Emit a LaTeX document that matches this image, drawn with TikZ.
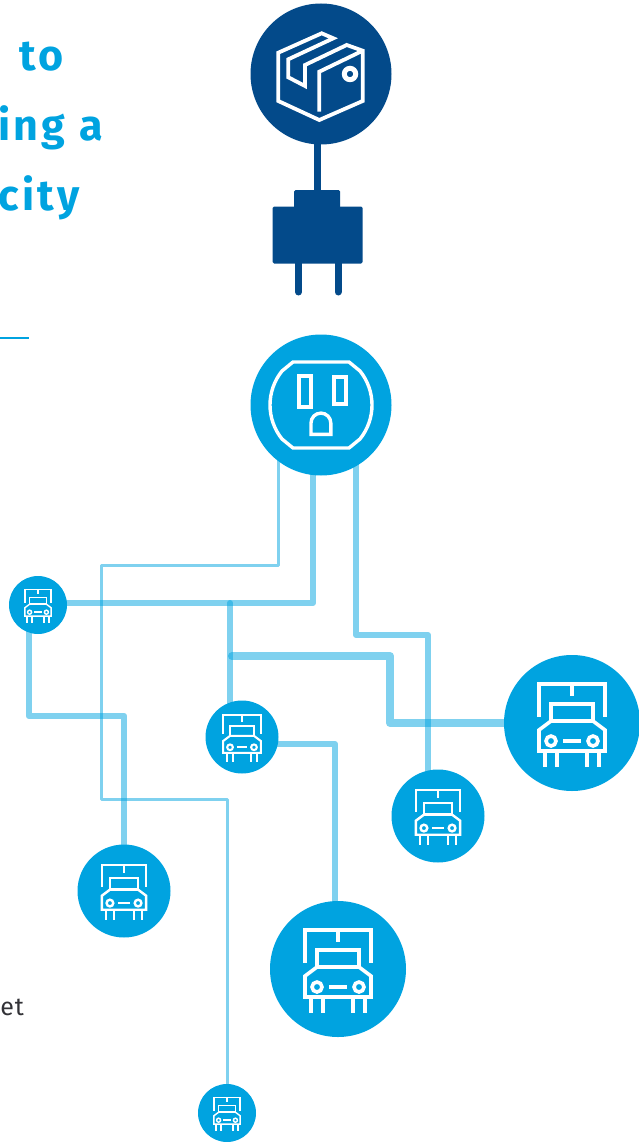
\documentclass[tikz,border=0pt]{standalone}
\usepackage{fontspec}
\setmainfont{Fira Sans}
\usepackage{tikz}
\usetikzlibrary{positioning, calc, backgrounds}
\usepackage{xcolor}
\definecolor{parcelblue}{RGB}{3, 74, 138}
\definecolor{chargeblue}{RGB}{0, 163, 224}
\definecolor{noteblack}{RGB}{50, 50, 55}
\tikzset{
  hub/.style={circle, fill=#1, inner sep=0pt, outer sep=0pt},
  headline/.style={anchor=base east, inner sep=0pt, text=chargeblue,
    font=\fontsize{43}{43}\selectfont\addfontfeature{LetterSpace=8}\bfseries},
  wire/.style={draw=chargeblue, opacity=0.5, line join=round, line width=#1},
  prong/.style={draw=parcelblue, line width=7pt, line cap=round},
  plugpart/.style={fill=parcelblue, rounded corners=1.5pt, inner sep=0pt, outer sep=0pt},
  glyph/.style={draw=white, line join=miter},
}
% truck icon, drawn around a named hub
\newcommand{\truckicon}[2]{%
  \begin{scope}[shift={(#1.center)}, scale=#2, glyph, line width=#2*3.6pt]
    \draw (-33,-6) -- (-33,-39) -- (33,-39) -- (33,-6);
    \draw (0,-39) -- (0,-27);
    \draw (-21,-2) rectangle (21,-19);
    \draw (-33,7) -- (-21,-2) -- (21,-2) -- (33,7) -- (33,28) -- (-33,28) -- cycle;
    \draw (-21,18) circle (5);
    \draw (21,18) circle (5);
    \draw (-9,18) -- (9,18);
    \foreach \legx in {-27,-15,15,27}
      \draw (\legx,28) -- (\legx,44);
  \end{scope}}
\begin{document}
\begin{tikzpicture}[x=1pt, y=-1pt]
  \useasboundingbox (0,0) rectangle (639,1142);
  % clipped headline and note
  \node[headline] (lineA) at (64,71) {to};
  \node[headline] (lineB) at (103,141) {ing a};
  \node[headline] (lineC) at (80,210) {city};
  \draw[chargeblue, line width=2pt] (0,338) -- (29,338);
  \node[anchor=base east, inner sep=0pt, text=noteblack, font=\fontsize{25}{25}\selectfont\addfontfeature{LetterSpace=3}\mdseries] (noteEnd) at (24,1015) {et};
  % the parcel and its plug
  \node[hub=parcelblue, minimum size=141pt] (parcel) at (321,74) {};
  \node[plugpart, minimum width=46pt, minimum height=24pt] (plugTop) at (317,202) {};
  \node[plugpart, minimum width=90pt, minimum height=57pt] (plugBody) at (317.5,235) {};
  \coordinate (prongA) at (298.5,292);
  \coordinate (prongB) at (338,292);
  \draw[parcelblue, line width=7pt] (plugTop |- parcel) -- (plugTop);
  \draw[prong] (prongA |- plugBody.south) -- (prongA);
  \draw[prong] (prongB |- plugBody.south) -- (prongB);
  \begin{scope}[shift={(parcel.center)}, glyph, line width=3.8pt]
    \draw (25.7,-29) -- (41.7,-23.3) -- (41.7,27) -- (-1.7,46) -- (-42.7,27) -- (-42.7,-21.3)
      -- (0.7,-40.7) -- (12.3,-35.7) -- (-32.7,-14.7) -- (-32.7,3.3) -- (-16,12) -- (-16,-9) -- cycle;
    \draw (-1.7,37.7) -- (-1.7,-2.3) -- (41.7,-23.3);
    \draw[line width=5pt] (29,0) circle (5.7);
  \end{scope}
  % the socket
  \node[hub=chargeblue, minimum size=141pt] (socket) at (321,405) {};
  \begin{scope}[shift={(socket.center)}, glyph, line width=3.4pt]
    \draw (-28,-43) -- (28,-43) -- (39,-34) .. controls (47,-24) and (51,-12) .. (51,0)
      .. controls (51,12) and (47,24) .. (39,34) -- (28,43) -- (-28,43) -- (-39,34)
      .. controls (-47,24) and (-51,12) .. (-51,0) .. controls (-51,-12) and (-47,-24) .. (-39,-34) -- cycle;
    \draw[line width=4pt] (-22.3,-29) rectangle (-10,2.3);
    \draw[line width=4pt] (13,-28) rectangle (25.3,-1);
    \draw (-10,29.3) -- (-10,18) arc (180:360:9.9) -- (9.8,29.3) -- cycle;
  \end{scope}
  % the trucks
  \node[hub=chargeblue, minimum size=136pt] (truckA) at (572,723) {};
  \node[hub=chargeblue, minimum size=136pt] (truckB) at (338,969) {};
  \node[hub=chargeblue, minimum size=93pt] (truckC) at (438,816) {};
  \node[hub=chargeblue, minimum size=93pt] (truckD) at (124,891) {};
  \node[hub=chargeblue, minimum size=73pt] (truckE) at (242,737) {};
  \node[hub=chargeblue, minimum size=58pt] (truckF) at (38,605) {};
  \node[hub=chargeblue, minimum size=58pt] (truckG) at (227,1113) {};
  \truckicon{truckA}{1}
  \truckicon{truckB}{1}
  \truckicon{truckC}{0.67}
  \truckicon{truckD}{0.67}
  \truckicon{truckE}{0.57}
  \truckicon{truckF}{0.4}
  \truckicon{truckG}{0.4}
  % bends of the wires
  \coordinate (bendA) at (101,565);
  \coordinate (bendB) at (101,799);
  \coordinate (bendC) at (313,603);
  \coordinate (bendD) at (428,635);
  \coordinate (bendE) at (390,656);
  \coordinate (bendG) at (335,744);
  \coordinate (tapA) at (230,603);
  \coordinate (tapB) at (232,656);
  \coordinate (bendF) at (29,716);
  \begin{scope}[on background layer]
    \draw[wire=3pt] ([xshift=-43pt]socket.center) |- (bendA) -- (bendB) -| (truckG);
    \draw[wire=6pt] ([xshift=-8pt]socket.center) -- (bendC) -- (truckF.center |- bendC);
    \draw[wire=6pt] ([xshift=35pt]socket.center) |- (bendD) -- (truckC.center -| bendD);
    \draw[wire=6pt, line cap=round] (tapA) -- (tapA |- truckE.center);
    \draw[wire=8pt, line cap=round] (tapB) -- (bendE) |- (truckA);
    \draw[wire=6.5pt] (bendF |- truckF.center) -- (bendF) -| (truckD);
    \draw[wire=6pt] (truckE.center |- bendG) -- (bendG) -- (bendG |- truckB.center);
  \end{scope}
\end{tikzpicture}
\end{document}
